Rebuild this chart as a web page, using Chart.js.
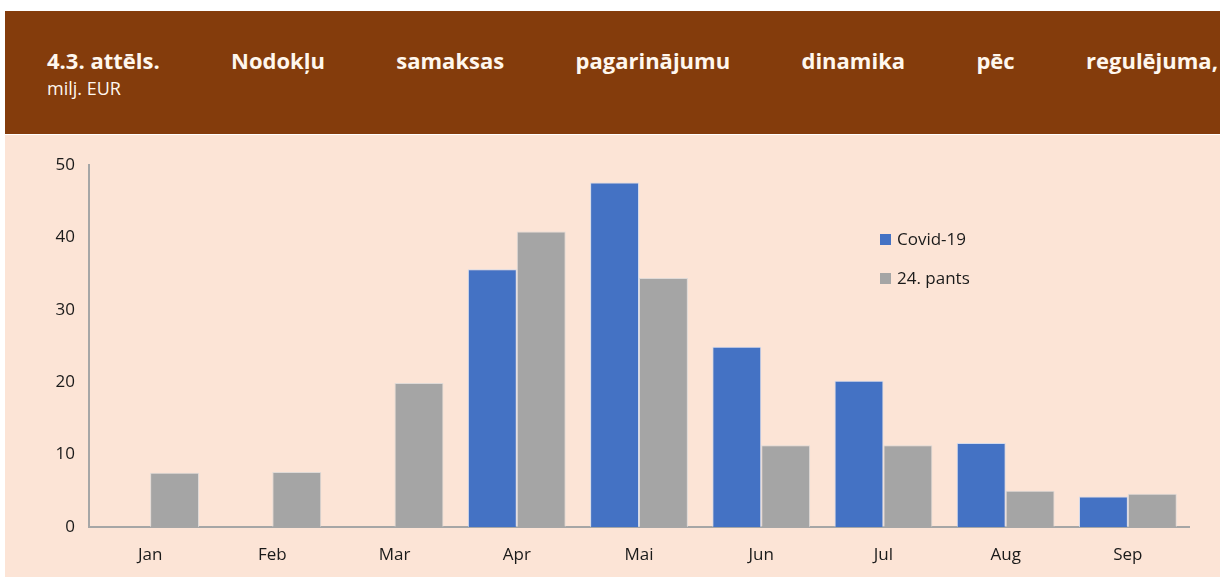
<!DOCTYPE html>
<html lang="lv">
<head>
<meta charset="utf-8">
<title>4.3. attēls</title>
<script src="https://cdn.jsdelivr.net/npm/chart.js@4"></script>
<style>
  html, body { margin: 0; padding: 0; background: #fff; }
  body { width: 1220px; height: 580px; position: relative; overflow: hidden; font-family: "Open Sans", "Noto Sans", sans-serif; }
  .virsraksts {
    position: absolute; left: 5px; top: 11px; width: 1215px; height: 123px;
    background: #843C0C; color: #FFF7EE; box-sizing: border-box; padding: 34px 2px 0 42px;
  }
  .rinda { display: flex; justify-content: space-between; font-weight: bold; font-size: 22px; line-height: 30px; }
  .mervieniba { font-size: 18px; line-height: 30px; margin-top: -2px; }
  .laukums { position: absolute; left: 5px; top: 135px; width: 1215px; height: 442px; background: #FCE4D6; }
</style>
</head>
<body>
<div class="virsraksts">
  <div class="rinda">
    <span>4.3. attēls.</span><span>Nodokļu</span><span>samaksas</span><span>pagarinājumu</span><span>dinamika</span><span>pēc</span><span>regulējuma,</span>
  </div>
  <div class="mervieniba">milj. EUR</div>
</div>
<div class="laukums"><canvas id="grafiks" width="1215" height="442"></canvas></div>
<script>
// mēneši un pagarinājumu apjomi, milj. EUR
var menesi = ['Jan', 'Feb', 'Mar', 'Apr', 'Mai', 'Jun', 'Jul', 'Aug', 'Sep'];
var covid19 = [0, 0, 0, 35.6, 47.6, 24.9, 20.2, 11.6, 4.2];
var pants24 = [7.5, 7.6, 19.9, 40.8, 34.4, 11.3, 11.3, 5.0, 4.6];
var yTicks = [0, 10, 20, 30, 40, 50];

var fonts = '"Open Sans", "Noto Sans", sans-serif';

/* leģenda grafika iekšpusē */
var iekselaLegenda = {
	id: 'iekselaLegenda',
	afterDraw: function(chart) {
		var ctx = chart.ctx;
		var x = chart.chartArea.left + 791;
		var y = chart.chartArea.top + 75;
		ctx.save();
		ctx.font = '17px ' + fonts;
		ctx.textBaseline = 'middle';
		chart.data.datasets.forEach(function(ds, i) {
			var yy = y + i * 39;
			ctx.fillStyle = ds.backgroundColor;
			ctx.fillRect(x, yy - 6, 11, 11);
			ctx.fillStyle = '#1a1a1a';
			ctx.fillText(ds.label, x + 17, yy);
		});
		ctx.restore();
	}
};

var ctx = document.getElementById('grafiks');
var grafiks = new Chart(ctx, {
	type: 'bar',
	data: {
		labels: menesi,
		datasets: [{
			label: 'Covid-19',
			data: covid19,
			backgroundColor: '#4472C4',
			borderColor: 'rgba(200,215,240,0.8)',
			borderWidth: 1
		}, {
			label: '24. pants',
			data: pants24,
			backgroundColor: '#A5A5A5',
			borderColor: 'rgba(215,215,215,0.8)',
			borderWidth: 1
		}]
	},
	options: {
		responsive: false,
		animation: false,
		layout: { padding: { top: 30, right: 31, left: 0, bottom: 0 } },
		datasets: { bar: { categoryPercentage: 0.8, barPercentage: 1.0 } },
		plugins: { legend: { display: false }, tooltip: { enabled: false } },
		scales: {
			x: {
				grid: { display: false, drawTicks: false },
				border: { color: '#A6A6A6', width: 2 },
				ticks: { color: '#1a1a1a', font: { family: fonts, size: 17 }, padding: 18 },
				afterFit: function(scale) { scale.height = 50; }
			},
			y: {
				min: 0,
				max: 50,
				grid: { display: false, drawTicks: false },
				border: { color: '#A6A6A6', width: 2 },
				afterBuildTicks: function(scale) {
					scale.ticks = yTicks.map(function(v) { return { value: v }; });
				},
				ticks: { color: '#1a1a1a', font: { family: fonts, size: 17 }, padding: 14 },
				afterFit: function(scale) { scale.width = 84; }
			}
		}
	},
	plugins: [iekselaLegenda]
});
</script>
</body>
</html>
